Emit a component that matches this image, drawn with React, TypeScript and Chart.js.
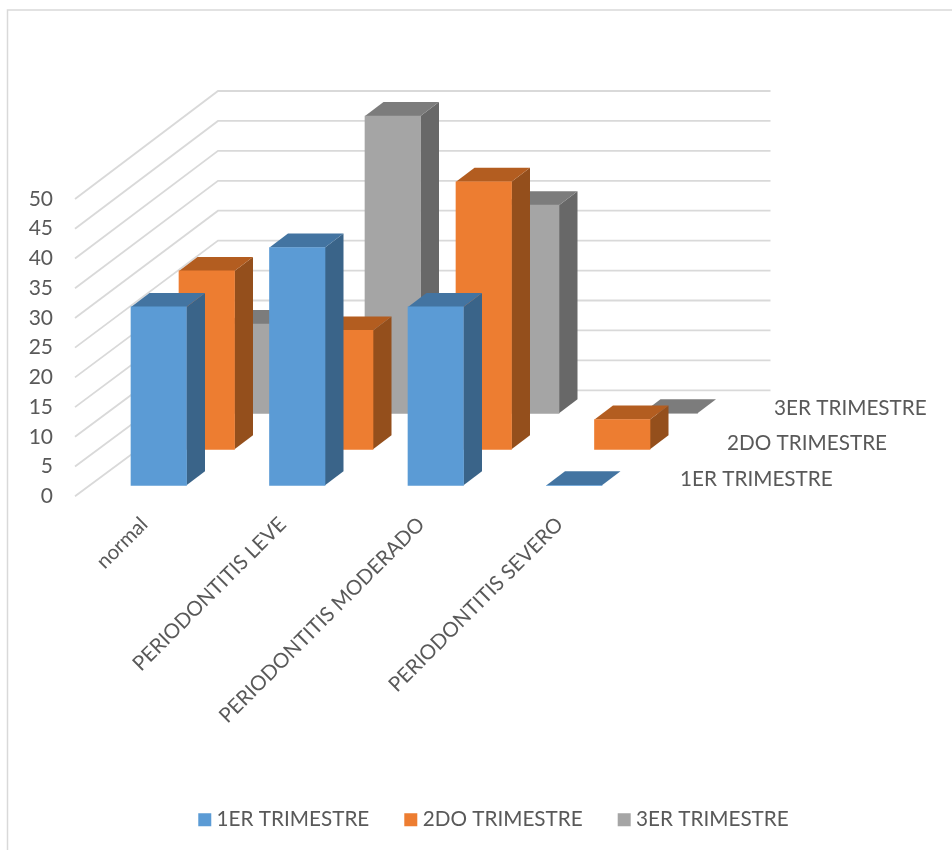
import React, { useEffect, useRef } from "react";
import { Chart, registerables } from "chart.js";

Chart.register(...registerables);

const categories = ["normal", "PERIODONTITIS LEVE", "PERIODONTITIS MODERADO", "PERIODONTITIS SEVERO"];
const seriesNames = ["1ER TRIMESTRE", "2DO TRIMESTRE", "3ER TRIMESTRE"];
const primerTrimestre = [30, 40, 30, 0];
const segundoTrimestre = [30, 20, 45, 5];
const tercerTrimestre = [15, 50, 35, 0];

const frontColors = ["#5B9BD5", "#ED7D31", "#A5A5A5"];
const topColors = ["#4374A1", "#B35D20", "#7C7C7C"];
const sideColors = ["#3A6489", "#944F1C", "#686868"];

// Oblique projection: how far each series row sits from the front edge of the floor.
const rowShift = [
  { dx: 14.5, dy: -11 },
  { dx: 62.5, dy: -47 },
  { dx: 110, dy: -83 },
];
const barDepth = { dx: 18.5, dy: -14 };
const wall = { dx: 143, dy: -106, right: 770.5, stretch: 300 / 298 };
const rowLabelAnchors = [
  { x: 680, y: 479 },
  { x: 727, y: 443 },
  { x: 774, y: 408 },
];

const FONT = "Lato";
const TEXT = "#595959";
const GRID = "#D9D9D9";

const frame = {
  id: "frame",
  beforeDraw(chart: any) {
    const { ctx, width, height } = chart;
    ctx.save();
    ctx.fillStyle = "#FFFFFF";
    ctx.fillRect(0, 0, width, height);
    ctx.strokeStyle = GRID;
    ctx.lineWidth = 1.5;
    ctx.beginPath();
    ctx.moveTo(7.5, height);
    ctx.lineTo(7.5, 10);
    ctx.lineTo(width, 10);
    ctx.stroke();
    ctx.restore();
  },
};

// Side wall and back wall gridlines, one bent line for every y tick.
const walls = {
  id: "walls",
  beforeDatasetsDraw(chart: any) {
    const { ctx, scales, chartArea } = chart;
    const y = scales.y;
    const zero = y.getPixelForValue(0);
    ctx.save();
    ctx.strokeStyle = GRID;
    ctx.lineWidth = 1.8;
    y.ticks.forEach((t: any) => {
      const front = y.getPixelForValue(t.value);
      const back = zero + wall.dy + (front - zero) * wall.stretch;
      ctx.beginPath();
      ctx.moveTo(chartArea.left, front);
      ctx.lineTo(chartArea.left + wall.dx, back);
      ctx.lineTo(wall.right, back);
      ctx.stroke();
    });
    ctx.restore();
  },
};

// Each series is drawn shifted back along the floor, with its top and side faces behind the front face.
const extrusion = {
  id: "extrusion",
  beforeDatasetDraw(chart: any, args: any) {
    const { ctx } = chart;
    const i = args.index;
    const meta = chart.getDatasetMeta(i);
    ctx.save();
    ctx.translate(rowShift[i].dx, rowShift[i].dy);
    meta.data.forEach((bar: any) => {
      const l = bar.x - bar.width / 2;
      const r = bar.x + bar.width / 2;
      const { dx, dy } = barDepth;
      ctx.fillStyle = sideColors[i];
      ctx.beginPath();
      ctx.moveTo(r, bar.y);
      ctx.lineTo(r + dx, bar.y + dy);
      ctx.lineTo(r + dx, bar.base + dy);
      ctx.lineTo(r, bar.base);
      ctx.closePath();
      ctx.fill();
      ctx.fillStyle = topColors[i];
      ctx.beginPath();
      ctx.moveTo(l, bar.y);
      ctx.lineTo(l + dx, bar.y + dy);
      ctx.lineTo(r + dx, bar.y + dy);
      ctx.lineTo(r, bar.y);
      ctx.closePath();
      ctx.fill();
    });
  },
  afterDatasetDraw(chart: any) {
    chart.ctx.restore();
  },
};

// Series names written along the depth axis.
const rowLabels = {
  id: "rowLabels",
  afterDatasetsDraw(chart: any) {
    const { ctx } = chart;
    ctx.save();
    ctx.fillStyle = TEXT;
    ctx.font = `20.7px ${FONT}`;
    ctx.textAlign = "left";
    ctx.textBaseline = "middle";
    seriesNames.forEach((name, i) => ctx.fillText(name, rowLabelAnchors[i].x, rowLabelAnchors[i].y));
    ctx.restore();
  },
};

export default function App() {
  const ref = useRef<HTMLCanvasElement>(null);

  useEffect(() => {
    document.body.style.margin = "0";
    const values = [primerTrimestre, segundoTrimestre, tercerTrimestre];
    const chart = new Chart(ref.current as HTMLCanvasElement, {
      type: "bar",
      data: {
        labels: categories,
        datasets: seriesNames.map((label, i) => ({
          label,
          data: values[i],
          backgroundColor: frontColors[i],
          borderWidth: 0,
          barThickness: 55.5,
          grouped: false,
          clip: false as any,
        })),
      },
      options: {
        responsive: false,
        animation: false,
        layout: { padding: { left: 0, top: 199, right: -40, bottom: 10 } },
        plugins: {
          tooltip: { enabled: false },
          legend: {
            position: "bottom",
            labels: {
              usePointStyle: true,
              pointStyle: "rect",
              boxWidth: 3,
              boxHeight: 13,
              padding: 40,
              color: TEXT,
              font: { family: FONT, size: 20.7 },
            },
          },
        },
        scales: {
          x: {
            grid: { display: false },
            border: { display: false },
            ticks: {
              color: TEXT,
              font: { family: FONT, size: 20.5 },
              minRotation: 45,
              maxRotation: 45,
              autoSkip: false,
              padding: 8,
            },
            afterFit: (s: any) => {
              s.height = 273;
            },
          },
          y: {
            min: 0,
            max: 50,
            grid: { display: false },
            border: { display: false },
            ticks: {
              stepSize: 5,
              color: TEXT,
              padding: 14,
              font: { family: FONT, size: 21 },
            },
            afterFit: (s: any) => {
              s.width = 75;
            },
          },
          spacer: {
            position: "right",
            grid: { display: false },
            border: { display: false },
            ticks: { display: false },
            afterFit: (s: any) => {
              s.width = 363;
            },
          },
        },
      },
      plugins: [frame, walls, extrusion, rowLabels],
    });
    return () => chart.destroy();
  }, []);

  return <canvas ref={ref} width={952} height={850} style={{ display: "block" }} />;
}
